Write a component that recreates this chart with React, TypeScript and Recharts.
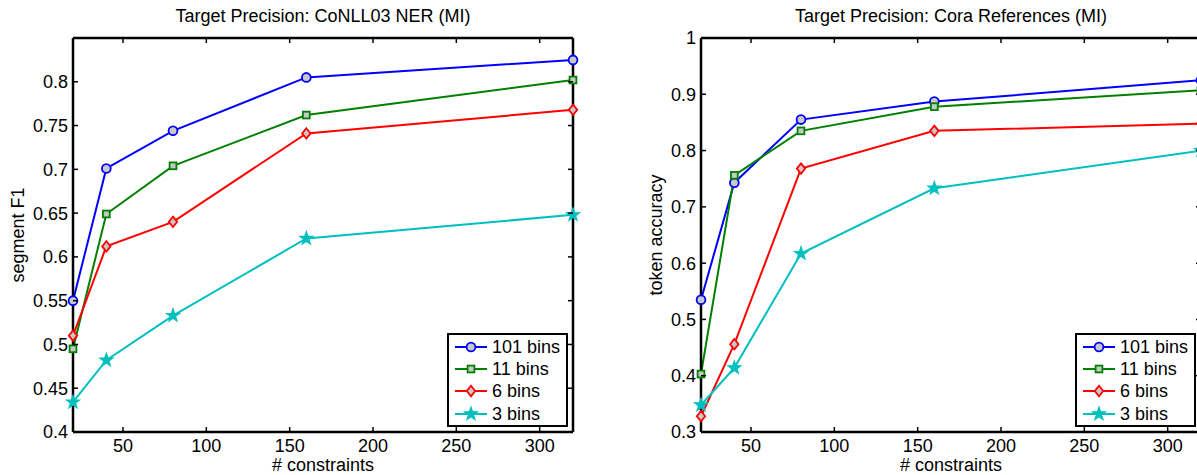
import React from "react"
import { LineChart, Line, XAxis, YAxis, ReferenceLine, Legend } from "recharts"

// x values shared by both panels
const constraints = [20, 40, 80, 160, 320]

// CoNLL03 NER, segment F1
const nerBins101 = [0.55, 0.701, 0.744, 0.805, 0.825]
const nerBins11 = [0.495, 0.649, 0.704, 0.762, 0.802]
const nerBins6 = [0.51, 0.612, 0.64, 0.741, 0.768]
const nerBins3 = [0.434, 0.482, 0.533, 0.621, 0.648]

// Cora references, token accuracy
const coraBins101 = [0.535, 0.743, 0.855, 0.887, 0.925]
const coraBins11 = [0.403, 0.756, 0.835, 0.878, 0.907]
const coraBins6 = [0.328, 0.456, 0.768, 0.835, 0.848]
const coraBins3 = [0.348, 0.414, 0.617, 0.733, 0.8]

const xTicks = [50, 100, 150, 200, 250, 300]
const nerTicks = [0.4, 0.45, 0.5, 0.55, 0.6, 0.65, 0.7, 0.75, 0.8]
const coraTicks = [0.3, 0.4, 0.5, 0.6, 0.7, 0.8, 0.9, 1]
const seriesNames = ["101 bins", "11 bins", "6 bins", "3 bins"]

const PLOT_W = 500
const PLOT_H = 394
const FACE = "#c8c8c8"
const FONT = "'Liberation Sans', Arial, Helvetica, sans-serif"

const styles = [
  { key: "b101", color: "#0000ff", shape: "circle" },
  { key: "b11", color: "#008000", shape: "square" },
  { key: "b6", color: "#ff0000", shape: "diamond" },
  { key: "b3", color: "#00bfbf", shape: "star" },
]

function Marker({ shape, cx, cy, color }: any) {
  const common = { fill: FACE, stroke: color, strokeWidth: 1.8 }
  if (shape === "circle") return <circle cx={cx} cy={cy} r={4.4} {...common} />
  if (shape === "square") return <rect x={cx - 3.4} y={cy - 3.4} width={6.8} height={6.8} {...common} />
  if (shape === "diamond")
    return <polygon points={`${cx},${cy - 5.2} ${cx + 4.2},${cy} ${cx},${cy + 5.2} ${cx - 4.2},${cy}`} {...common} />
  // pentagram
  const pts: string[] = []
  for (let i = 0; i < 10; i++) {
    const r = i % 2 === 0 ? 6.8 : 2.7
    const a = -Math.PI / 2 + (i * Math.PI) / 5
    pts.push(`${cx + r * Math.cos(a)},${cy + r * Math.sin(a)}`)
  }
  return <polygon points={pts.join(" ")} fill={color} stroke={color} strokeWidth={1.2} />
}

function XTick({ x, y, payload }: any) {
  return (
    <g>
      <line x1={x} x2={x} y1={y} y2={y - 5} stroke="#000" strokeWidth={1.5} />
      <line x1={x} x2={x} y1={y - PLOT_H} y2={y - PLOT_H + 5} stroke="#000" strokeWidth={1.5} />
      <text x={x} y={y + 20} textAnchor="middle" fontSize={18} fill="#000" fontFamily={FONT}>
        {payload.value}
      </text>
    </g>
  )
}

function YTick({ x, y, payload }: any) {
  return (
    <g>
      <line x1={x} x2={x + 5} y1={y} y2={y} stroke="#000" strokeWidth={1.5} />
      <line x1={x + PLOT_W} x2={x + PLOT_W - 5} y1={y} y2={y} stroke="#000" strokeWidth={1.5} />
      <text x={x - 5} y={y} dy="0.36em" textAnchor="end" fontSize={18} fill="#000" fontFamily={FONT}>
        {String(payload.value)}
      </text>
    </g>
  )
}

function LegendBox({ payload }: any) {
  const entries = payload || []
  return (
    <div
      style={{
        width: 121,
        height: 94,
        boxSizing: "border-box",
        border: "2.5px solid #000",
        background: "#fff",
        fontFamily: FONT,
        fontSize: 18,
        paddingTop: 0.5,
      }}
    >
      {styles.map((st) => {
        const entry = entries.find((e: any) => e.dataKey === st.key)
        if (!entry) return null
        return (
          <div key={st.key} style={{ display: "flex", alignItems: "center", height: 22.3 }}>
            <svg width={41} height={20} style={{ display: "block" }}>
              <line x1={6} x2={38} y1={10} y2={10} stroke={st.color} strokeWidth={2} />
              <Marker shape={st.shape} cx={22} cy={10} color={st.color} />
            </svg>
            <span style={{ marginLeft: 2, lineHeight: "20px", color: "#000" }}>{entry.value}</span>
          </div>
        )
      })}
    </div>
  )
}

function Panel({ left, title, yLabel, labelOffset, yDomain, yTicks, values }: any) {
  const data = constraints.map((n, i) => {
    const row: any = { n }
    styles.forEach((s, j) => (row[s.key] = values[j][i]))
    return row
  })
  return (
    <div style={{ position: "absolute", left, top: 0, width: 600, height: 475 }}>
      <LineChart width={600} height={475} data={data} margin={{ top: 38, right: 27, bottom: 0, left: 0 }}>
        <XAxis
          dataKey="n"
          type="number"
          domain={[20, 320]}
          ticks={xTicks}
          height={43}
          tickSize={0}
          tickMargin={0}
          tickLine={false}
          tick={(p: any) => <XTick {...p} />}
          axisLine={{ stroke: "#000", strokeWidth: 2.5 }}
          label={{ value: "# constraints", position: "insideBottom", offset: 4, fill: "#000", fontSize: 18 }}
        />
        <YAxis
          type="number"
          domain={yDomain}
          ticks={yTicks}
          width={73}
          tickSize={0}
          tickMargin={0}
          tickLine={false}
          tick={(p: any) => <YTick {...p} />}
          axisLine={{ stroke: "#000", strokeWidth: 2.5 }}
          label={{
            value: yLabel,
            angle: -90,
            position: "insideLeft",
            offset: labelOffset,
            fill: "#000",
            fontSize: 18,
            style: { textAnchor: "middle" },
          }}
        />
        <ReferenceLine y={yDomain[1]} stroke="#000" strokeWidth={2.5} />
        <ReferenceLine x={320} stroke="#000" strokeWidth={2.5} />
        {styles.map((s, j) => (
          <Line
            key={s.key}
            dataKey={s.key}
            name={seriesNames[j]}
            stroke={s.color}
            strokeWidth={2}
            isAnimationActive={false}
            activeDot={false}
            dot={(p: any) => <Marker key={`${s.key}-${p.index}`} shape={s.shape} cx={p.cx} cy={p.cy} color={s.color} />}
          />
        ))}
        <Legend
          layout="vertical"
          align="center"
          verticalAlign="middle"
          wrapperStyle={{ left: 447, top: 333, width: 121, height: 94 }}
          content={(p: any) => <LegendBox {...p} />}
        />
      </LineChart>
      <div
        style={{
          position: "absolute",
          left: 73,
          top: 7,
          width: PLOT_W,
          textAlign: "center",
          fontSize: 18,
          lineHeight: "18px",
          whiteSpace: "nowrap",
          color: "#000",
        }}
      >
        {title}
      </div>
    </div>
  )
}

export default function App() {
  return (
    <div
      style={{
        position: "fixed",
        left: 0,
        top: 0,
        width: 1197,
        height: 475,
        overflow: "hidden",
        background: "#fff",
        fontFamily: FONT,
      }}
    >
      <Panel
        left={0}
        title="Target Precision: CoNLL03 NER (MI)"
        yLabel="segment F1"
        labelOffset={18}
        yDomain={[0.4, 0.85]}
        yTicks={nerTicks}
        values={[nerBins101, nerBins11, nerBins6, nerBins3]}
      />
      <Panel
        left={628}
        title="Target Precision: Cora References (MI)"
        yLabel="token accuracy"
        labelOffset={28}
        yDomain={[0.3, 1]}
        yTicks={coraTicks}
        values={[coraBins101, coraBins11, coraBins6, coraBins3]}
      />
    </div>
  )
}
